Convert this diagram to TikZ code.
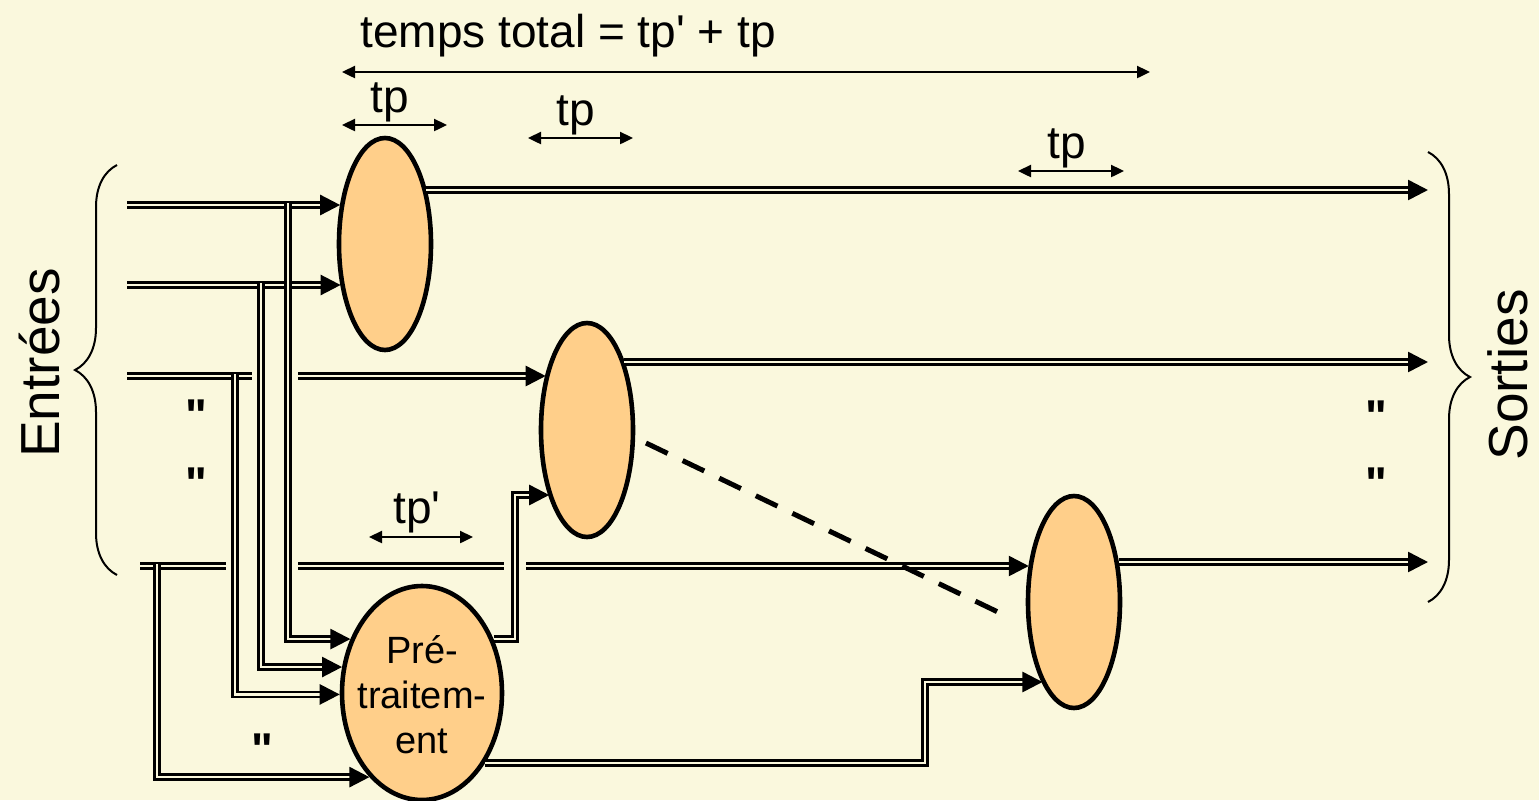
\documentclass[tikz,border=0pt]{standalone}
\usepackage{fontspec}
\setmainfont{Liberation Sans}[Ligatures=TeXOff]
\usetikzlibrary{arrows.meta,shapes.geometric,decorations.pathreplacing,calc}
\definecolor{bg}{RGB}{250,248,221}
\definecolor{eggfill}{RGB}{255,207,138}
\begin{document}
\begin{tikzpicture}[x=0.5pt,y=-0.5pt,
  dbl/.style={draw=black, line width=1.3pt, double=bg, double distance=1.2pt},
  arr/.style={-{Triangle[length=10pt,width=10pt]}},
  dim/.style={line width=1.2pt, {Triangle[length=6.5pt,width=6pt]}-{Triangle[length=6.5pt,width=6pt]}},
  egg/.style={ellipse, draw, line width=2.3pt, fill=eggfill, minimum width=46pt, minimum height=106pt, inner sep=0pt},
  lbl/.style={font=\fontsize{23}{27}\selectfont, inner sep=0pt, anchor=base},
  ditto/.style={font=\fontsize{23}{27}\selectfont\bfseries, inner sep=0pt, anchor=north},
  side/.style={font=\fontsize{27.5}{32}\selectfont, inner sep=0pt, anchor=base, rotate=90},
  brc/.style={line width=1pt, decorate, decoration={brace, amplitude=21pt}}
]
\fill[bg] (0,0) rectangle (1539,800);
\useasboundingbox (0,0) rectangle (1539,800);

% coordinates
\coordinate (i1) at (127,205); \coordinate (i2) at (127,285);
\coordinate (i3) at (127,376); \coordinate (i4) at (140,566);
\coordinate (g3a) at (252,376); \coordinate (g3b) at (298,376);
\coordinate (g4a) at (226,566); \coordinate (g4b) at (298,566);
\coordinate (g4c) at (504,566); \coordinate (g4d) at (526,566);
\coordinate (b1) at (288,203); \coordinate (b2) at (261,283);
\coordinate (b3) at (235,374); \coordinate (b4) at (157,564);
\coordinate (k1) at (515,495); \coordinate (k2) at (925,682);
\coordinate (o1) at (1428,190); \coordinate (o2) at (1428,362); \coordinate (o3) at (1428,562);
\coordinate (d1) at (646,443); \coordinate (d2) at (1000,613);
\coordinate (lb1) at (117,575); \coordinate (lb2) at (117,165);
\coordinate (rb1) at (1428,152); \coordinate (rb2) at (1428,602);
\coordinate (ta) at (342,72); \coordinate (tb) at (1150,72);
\coordinate (p1a) at (342,125); \coordinate (p1b) at (447,125);
\coordinate (p2a) at (528,138); \coordinate (p2b) at (633,138);
\coordinate (p3a) at (1018,171); \coordinate (p3b) at (1124,171);
\coordinate (p4a) at (369,537); \coordinate (p4b) at (473,537);

% input line pieces (drawn first, under ellipses)
\draw[dbl] (i3) -- (g3a);
\draw[dbl] (i4) -- (g4a);
\draw[dbl] (g4b) -- (g4c);

% nodes
\node[egg] (E1) at (385,244) {};
\node[egg, minimum height=107pt] (E2) at (587,430) {};
\node[egg] (E3) at (1074,602) {};
\node[egg, minimum width=80pt, minimum height=107pt] (P) at (422,693) {};
\node[font=\fontsize{19}{22.5}\selectfont, align=center, inner sep=0pt] (Ptxt) at (422,695) {Pré-\\traitem-\\ent};

% connectors
\draw[dbl,arr] (i1) -- (i1 -| E1.138);
\draw[dbl,arr] (i2) -- (i2 -| E1.224);
\draw[dbl,arr] (g3b) -- (g3b -| E2.126);
\draw[dbl,arr] (g4d) -- (g4d -| E3.140);
\draw[dbl,arr] (b1) |- (P.143);
\draw[dbl,arr] (b2) |- (P.162);
\draw[dbl,arr] (b3) |- (P.181);
\draw[dbl,arr] (b4) |- (P.238);
\draw[dbl,arr] (P.37) -| (k1) -- (k1 -| E2.241);
\draw[dbl,arr] (P.312) -| (k2) -- (k2 -| E3.249);
\draw[dbl,arr] (o1 -| E1.54) -- (o1);
\draw[dbl,arr] (o2 -| E2.62) -- (o2);
\draw[dbl,arr] (o3 -| E3.43) -- (o3);

\draw[line width=2.5pt, dash pattern=on 12pt off 8.3pt] (d1) -- (d2);

% braces
\draw[brc] (lb1) -- (lb2);
\draw[brc] (rb1) -- (rb2);

% dimension arrows
\draw[dim] (ta) -- (tb);
\draw[dim] (p1a) -- (p1b);
\draw[dim] (p2a) -- (p2b);
\draw[dim] (p3a) -- (p3b);
\draw[dim] (p4a) -- (p4b);

% labels
\node[lbl] (title) at (568,47) {temps total = tp' + tp};
\node[lbl] (tp1) at (390,112) {tp};
\node[lbl] (tp2) at (576,125) {tp};
\node[lbl] (tp3) at (1067,158) {tp};
\node[lbl] (tp4) at (417,523) {tp'};
\node[side] (ent) at (60,363) {Entrées};
\node[side] (sor) at (1527,375) {Sorties};
\node[ditto] (q1) at (196,399) {"};
\node[ditto] (q2) at (196,467) {"};
\node[ditto] (q3) at (262,733) {"};
\node[ditto] (q4) at (1376,400) {"};
\node[ditto] (q5) at (1376,467) {"};
\end{tikzpicture}
\end{document}
